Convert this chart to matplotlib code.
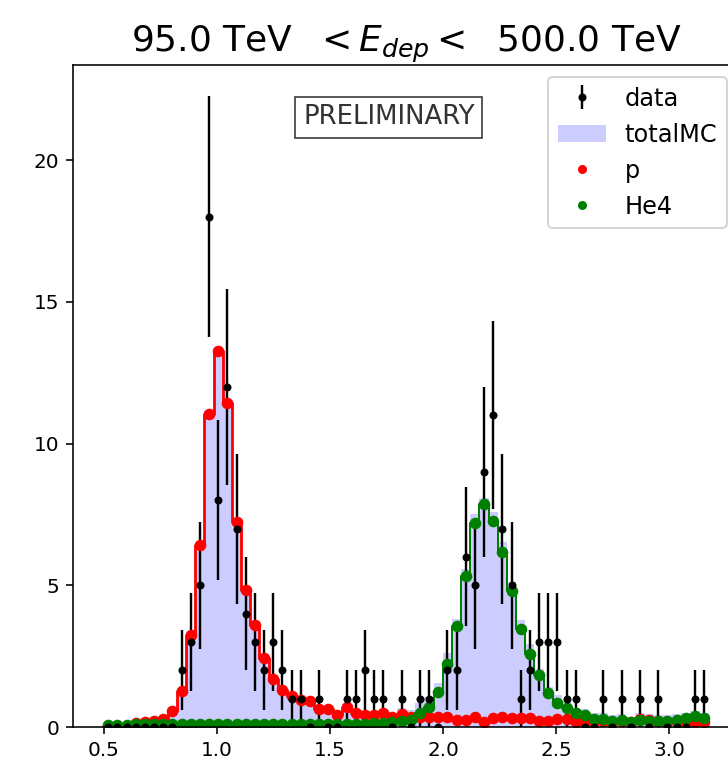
import numpy as np
import matplotlib.pyplot as plt
from matplotlib.patches import Patch
from matplotlib.lines import Line2D

# --- binning (66 bins) ---
edges = np.linspace(0.5, 3.174, 67)
centers = 0.5 * (edges[:-1] + edges[1:])

# --- observed counts per bin ---
data = np.array([
    0, 0, 0, 0, 0, 0, 0, 0, 2, 3,
    5, 18, 8, 12, 7, 4, 3, 2, 3, 2,
    1, 1, 0, 1, 0, 0, 1, 1, 2, 1,
    1, 0, 1, 0, 1, 1, 0, 2, 2, 6,
    5, 9, 11, 7, 5, 1, 2, 3, 3, 3,
    1, 1, 0, 0, 1, 0, 1, 0, 1, 0,
    1, 0, 0, 0, 1, 1,
])

# --- MC expectation, proton component ---
mc_p = np.array([
    0.02, 0.03, 0.05, 0.15, 0.17, 0.20, 0.30, 0.56, 1.27, 3.26,
    6.41, 11.04, 13.27, 11.42, 7.23, 4.85, 3.59, 2.42, 1.71, 1.30,
    1.08, 0.94, 0.93, 0.64, 0.62, 0.42, 0.69, 0.50, 0.42, 0.42,
    0.50, 0.34, 0.46, 0.34, 0.37, 0.36, 0.34, 0.36, 0.25, 0.25,
    0.34, 0.19, 0.31, 0.36, 0.31, 0.31, 0.33, 0.22, 0.22, 0.27,
    0.27, 0.19, 0.19, 0.22, 0.22, 0.19, 0.22, 0.19, 0.27, 0.25,
    0.22, 0.19, 0.22, 0.19, 0.19, 0.19,
])

# --- MC expectation, helium-4 component ---
mc_he4 = np.array([
    0.08, 0.08, 0.08, 0.09, 0.09, 0.09, 0.10, 0.10, 0.10, 0.11,
    0.11, 0.12, 0.12, 0.12, 0.11, 0.12, 0.12, 0.12, 0.11, 0.11,
    0.11, 0.10, 0.10, 0.10, 0.10, 0.10, 0.11, 0.11, 0.12, 0.13,
    0.14, 0.16, 0.20, 0.26, 0.48, 0.71, 1.23, 2.24, 3.57, 5.32,
    7.19, 7.88, 7.27, 6.17, 4.80, 3.47, 2.59, 1.83, 1.19, 0.86,
    0.66, 0.48, 0.43, 0.27, 0.27, 0.22, 0.24, 0.18, 0.24, 0.22,
    0.22, 0.22, 0.24, 0.31, 0.39, 0.31,
])

total_mc = mc_p + mc_he4

fig = plt.figure(figsize=(728 / 144, 770 / 144), dpi=144)
ax = fig.add_axes([0.1007, 0.0558, 0.9144, 0.8597])

ax.hist(centers, bins=edges, weights=total_mc, histtype='stepfilled',
        color='blue', alpha=0.2, label='totalMC')
eb = ax.errorbar(centers, data, yerr=np.sqrt(data), fmt='.k',
                 elinewidth=1.2, label='data')
ax.step(centers, mc_p, where='mid', color='red', lw=1.4)
ax.plot(centers, mc_p, 'o', color='red', ms=4.8)
ax.step(centers, mc_he4, where='mid', color='green', lw=1.0)
ax.plot(centers, mc_he4, 'o', color='green', ms=4.8)

ax.set_xlim(0.366, 3.308)
ax.set_ylim(0, 23.35)

ax.set_title(r'95.0 TeV  $< E_{dep} <$  500.0 TeV', fontsize=18)

ax.text(0.474, 0.921, 'PRELIMINARY', transform=ax.transAxes,
        ha='center', va='center', fontsize=13, color='0.2',
        bbox=dict(boxstyle='square,pad=0.3', fc='white', ec='0.2', lw=0.8))

handles = [
    eb,
    Patch(facecolor='blue', alpha=0.2),
    Line2D([], [], ls='none', marker='o', color='red', ms=3.5),
    Line2D([], [], ls='none', marker='o', color='green', ms=3.5),
]
ax.legend(handles, ['data', 'totalMC', 'p', 'He4'], loc='upper right', fontsize=12)

fig.savefig('out.png', dpi=144)
